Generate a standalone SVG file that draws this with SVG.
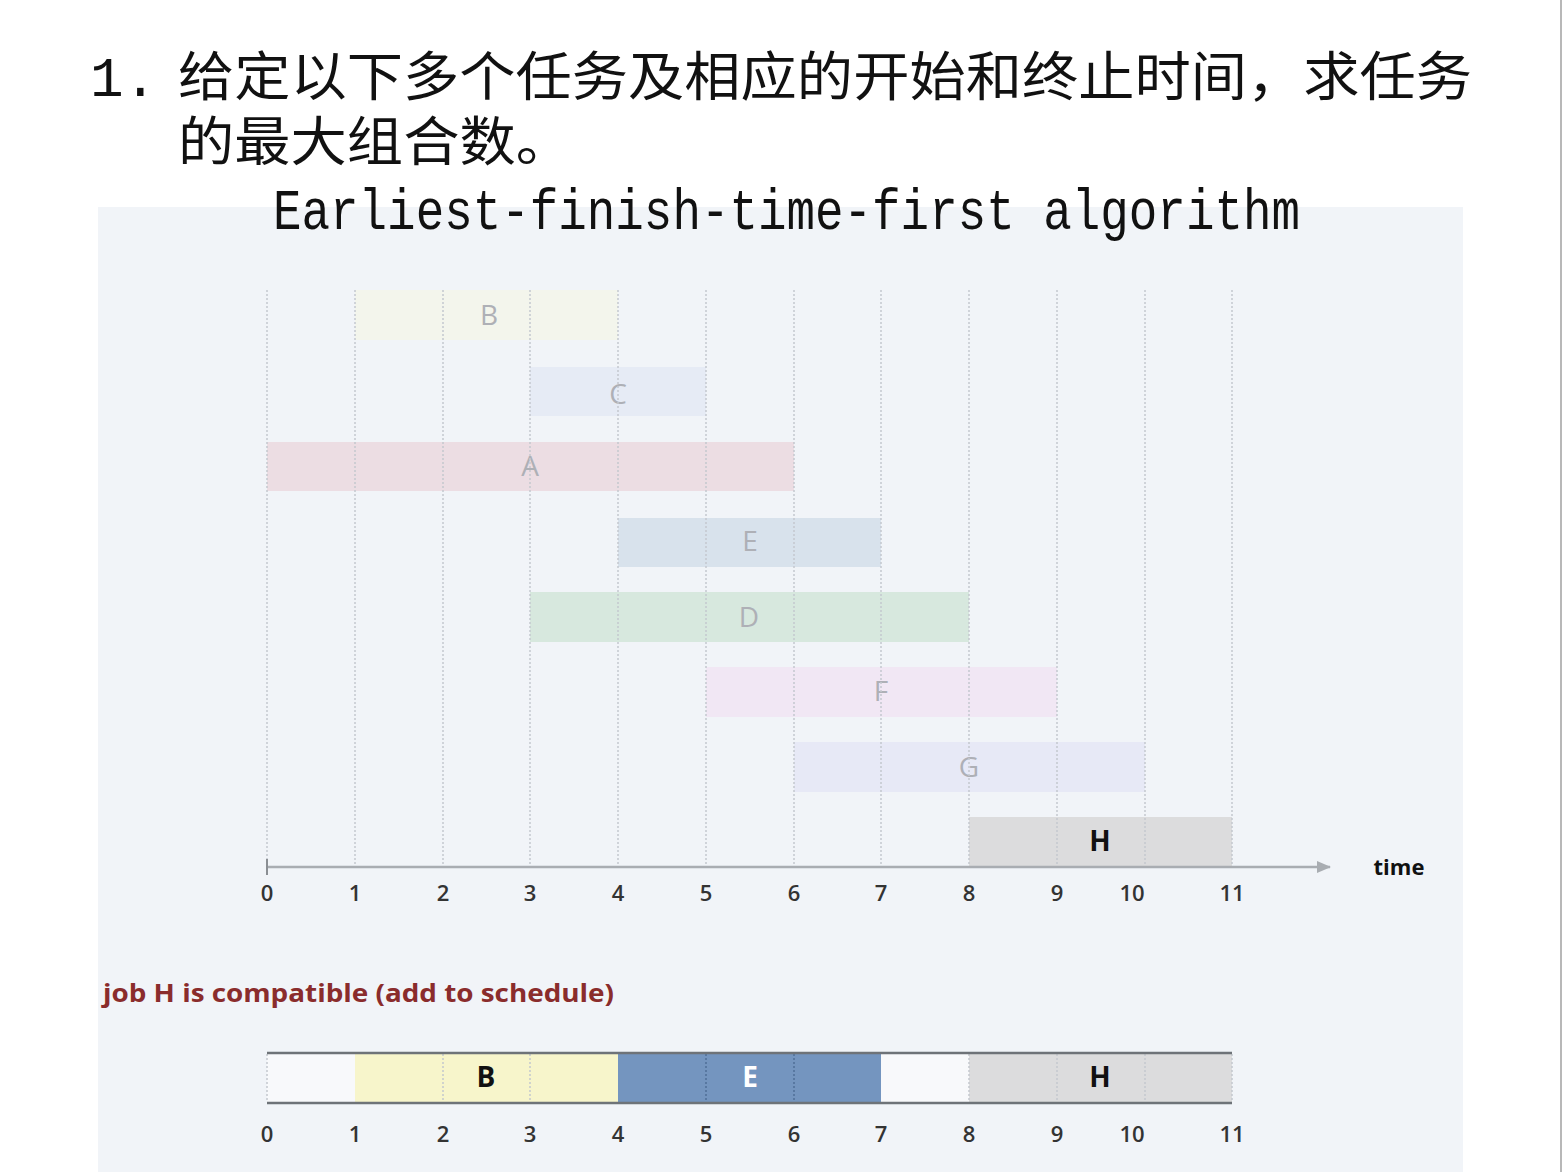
<svg xmlns="http://www.w3.org/2000/svg" width="1562" height="1172" viewBox="0 0 1562 1172">
  <defs>
    <marker id="arr" markerWidth="14" markerHeight="12" refX="13" refY="6" orient="auto" markerUnits="userSpaceOnUse">
      <path d="M0,0 L14,6 L0,12 Z" fill="#a9adb2"/>
    </marker>
  </defs>
  <style>
    .cjk { font-family: "Noto Sans CJK SC", "Noto Sans", sans-serif; font-size: 53px; fill: #111; }
    .mono { font-family: "Liberation Mono", "DejaVu Sans Mono", monospace; fill: #111; }
    .grid { stroke: #c3c8ce; stroke-width: 1.5; stroke-dasharray: 2 2; }
    .faint { font-family: "Open Sans", "Liberation Sans", sans-serif; font-size: 28px; fill: #aeb0b6; text-anchor: middle; }
    .bold { font-family: "Open Sans", "Liberation Sans", sans-serif; font-size: 28px; font-weight: 700; fill: #111; text-anchor: middle; }
    .tick { font-family: "Open Sans", "Liberation Sans", sans-serif; font-size: 22px; font-weight: 600; fill: #333; text-anchor: middle; }
  </style>
  <rect width="1562" height="1172" fill="#ffffff"/>
  <line x1="1561" y1="0" x2="1561" y2="1172" stroke="#b8b8b8" stroke-width="2"/>

  <g id="title">
    <text x="90" y="96" class="mono" font-size="56">1.</text>
    <text class="cjk"><tspan x="178" y="96" textLength="1294" lengthAdjust="spacingAndGlyphs">给定以下多个任务及相应的开始和终止时间，求任务</tspan><tspan x="178" y="161" textLength="394" lengthAdjust="spacingAndGlyphs">的最大组合数。</tspan></text>
  </g>

  <rect id="panel" x="98" y="207" width="1365" height="965" fill="#f1f4f8"/>

  <g id="heading">
    <text x="273" y="229" class="mono" font-size="58" textLength="1027" lengthAdjust="spacingAndGlyphs">Earliest-finish-time-first algorithm</text>
  </g>

  <g id="job-B"><rect x="355" y="290" width="263" height="50" fill="#f3f5ec"/><text x="489" y="325" class="faint">B</text></g>
  <g id="job-C"><rect x="530" y="367" width="176" height="49" fill="#e6ebf5"/><text x="618" y="404" class="faint">C</text></g>
  <g id="job-A"><rect x="267" y="442" width="527" height="49" fill="#ecdde3"/><text x="530" y="476" class="faint">A</text></g>
  <g id="job-E"><rect x="618" y="518" width="263" height="49" fill="#d8e2ec"/><text x="750" y="551" class="faint">E</text></g>
  <g id="job-D"><rect x="530" y="592" width="439" height="50" fill="#d7e8de"/><text x="749" y="627" class="faint">D</text></g>
  <g id="job-F"><rect x="706" y="667" width="351" height="50" fill="#f1e7f4"/><text x="881" y="701" class="faint">F</text></g>
  <g id="job-G"><rect x="794" y="742" width="351" height="50" fill="#e7e9f6"/><text x="969" y="777" class="faint">G</text></g>
  <g id="job-H"><rect x="969" y="817" width="263" height="49" fill="#dcdcdd"/><text x="1100" y="851" class="bold">H</text></g>

  <g id="gridlines">
    <line class="grid" x1="267" y1="290" x2="267" y2="866"/>
    <line class="grid" x1="355" y1="290" x2="355" y2="866"/>
    <line class="grid" x1="443" y1="290" x2="443" y2="866"/>
    <line class="grid" x1="530" y1="290" x2="530" y2="866"/>
    <line class="grid" x1="618" y1="290" x2="618" y2="866"/>
    <line class="grid" x1="706" y1="290" x2="706" y2="866"/>
    <line class="grid" x1="794" y1="290" x2="794" y2="866"/>
    <line class="grid" x1="881" y1="290" x2="881" y2="866"/>
    <line class="grid" x1="969" y1="290" x2="969" y2="866"/>
    <line class="grid" x1="1057" y1="290" x2="1057" y2="866"/>
    <line class="grid" x1="1145" y1="290" x2="1145" y2="866"/>
    <line class="grid" x1="1232" y1="290" x2="1232" y2="866"/>
  </g>

  <g id="connectors">
    <line x1="267" y1="867" x2="1330" y2="867" stroke="#a9adb2" stroke-width="2.5" marker-end="url(#arr)"/>
    <line x1="267" y1="859" x2="267" y2="875" stroke="#8a8e93" stroke-width="2"/>
  </g>

  <g id="axis-labels">
    <text x="267" y="901" class="tick">0</text>
    <text x="355" y="901" class="tick">1</text>
    <text x="443" y="901" class="tick">2</text>
    <text x="530" y="901" class="tick">3</text>
    <text x="618" y="901" class="tick">4</text>
    <text x="706" y="901" class="tick">5</text>
    <text x="794" y="901" class="tick">6</text>
    <text x="881" y="901" class="tick">7</text>
    <text x="969" y="901" class="tick">8</text>
    <text x="1057" y="901" class="tick">9</text>
    <text x="1132" y="901" class="tick">10</text>
    <text x="1232" y="901" class="tick">11</text>
    <text x="1399" y="875" class="bold" style="font-size:22px">time</text>
  </g>

  <g id="caption">
    <text x="103" y="1002" font-family="Open Sans, Liberation Sans, sans-serif" font-size="25" font-weight="700" fill="#8a2c2c" textLength="511" lengthAdjust="spacingAndGlyphs">job H is compatible (add to schedule)</text>
  </g>

  <g id="schedule">
    <rect x="267" y="1053" width="88" height="50" fill="#f8f9fb"/>
    <rect x="355" y="1053" width="263" height="50" fill="#f7f5cb"/>
    <rect x="618" y="1053" width="263" height="50" fill="#7495bf"/>
    <rect x="881" y="1053" width="88" height="50" fill="#f8f9fb"/>
    <rect x="969" y="1053" width="263" height="50" fill="#dcdcdd"/>
    <line class="grid" x1="267" y1="1054" x2="267" y2="1102"/>
    <line class="grid" x1="443" y1="1054" x2="443" y2="1102"/>
    <line class="grid" x1="530" y1="1054" x2="530" y2="1102"/>
    <line class="grid" x1="706" y1="1054" x2="706" y2="1102" style="stroke:#4f6f98"/>
    <line class="grid" x1="794" y1="1054" x2="794" y2="1102" style="stroke:#4f6f98"/>
    <line class="grid" x1="969" y1="1054" x2="969" y2="1102"/>
    <line class="grid" x1="1057" y1="1054" x2="1057" y2="1102"/>
    <line class="grid" x1="1145" y1="1054" x2="1145" y2="1102"/>
    <line class="grid" x1="1232" y1="1054" x2="1232" y2="1102"/>
    <line x1="267" y1="1053" x2="1232" y2="1053" stroke="#6e7378" stroke-width="2.5"/>
    <line x1="267" y1="1103" x2="1232" y2="1103" stroke="#6e7378" stroke-width="2.5"/>
    <text x="486" y="1087" class="bold">B</text>
    <text x="750" y="1087" class="bold" style="fill:#ffffff">E</text>
    <text x="1100" y="1087" class="bold">H</text>
  </g>

  <g id="schedule-labels">
    <text x="267" y="1142" class="tick">0</text>
    <text x="355" y="1142" class="tick">1</text>
    <text x="443" y="1142" class="tick">2</text>
    <text x="530" y="1142" class="tick">3</text>
    <text x="618" y="1142" class="tick">4</text>
    <text x="706" y="1142" class="tick">5</text>
    <text x="794" y="1142" class="tick">6</text>
    <text x="881" y="1142" class="tick">7</text>
    <text x="969" y="1142" class="tick">8</text>
    <text x="1057" y="1142" class="tick">9</text>
    <text x="1132" y="1142" class="tick">10</text>
    <text x="1232" y="1142" class="tick">11</text>
  </g>
</svg>
